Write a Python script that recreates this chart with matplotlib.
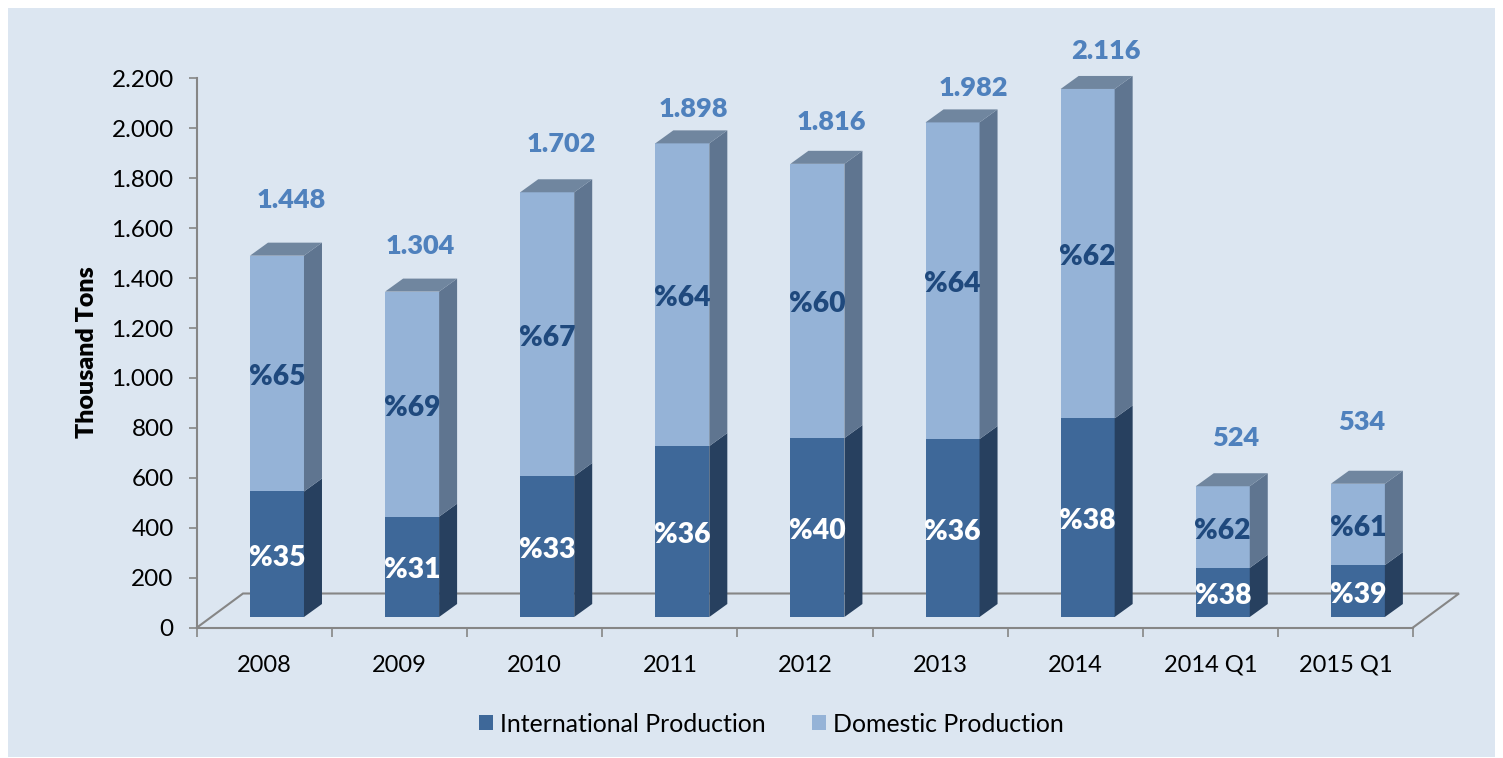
import numpy as np
import matplotlib
matplotlib.use('Agg')
import matplotlib.pyplot as plt
from matplotlib.patches import Polygon, Rectangle

plt.rcParams['font.family'] = ['Lato', 'DejaVu Sans']

categories = ['2008', '2009', '2010', '2011', '2012', '2013', '2014', '2014 Q1', '2015 Q1']
international = [503, 402, 565, 685, 717, 713, 796, 197, 208]
domestic = [945, 902, 1137, 1213, 1099, 1269, 1320, 327, 326]
totals = ['1.448', '1.304', '1.702', '1.898', '1.816', '1.982', '2.116', '524', '534']
share_int = ['%35', '%31', '%33', '%36', '%40', '%36', '%38', '%38', '%39']
share_dom = ['%65', '%69', '%67', '%64', '%60', '%64', '%62', '%62', '%61']
yticks = [0, 200, 400, 600, 800, 1000, 1200, 1400, 1600, 1800, 2000, 2200]
ylabels = ['0', '200', '400', '600', '800', '1.000', '1.200', '1.400', '1.600', '1.800', '2.000', '2.200']

# label placement in pixels relative to the front top corner / bar centre
total_dx = [14, 8, 14, 11, 14, 21, 18, 13, 4]
total_dy = [56, 46, 48, 34, 42, 34, 38, 48, 62]

W, H = 1503, 758
bg = '#DCE6F1'
c_int, c_int_side = '#3E6899', '#27405F'
c_dom, c_dom_side, c_dom_top = '#95B3D7', '#5F7590', '#70869F'
axis_col = '#868686'

fig = plt.figure(figsize=(W / 100, H / 100), dpi=100, facecolor='white')
fig.patches.append(Rectangle((8 / W, 1 / H), 1487 / W, 749 / H, transform=fig.transFigure,
                             facecolor=bg, edgecolor='none', zorder=-5))

ax = fig.add_axes([197 / W, (H - 627.5) / H, 1216 / W, 549 / H])
ax.patch.set_visible(False)
ax.set_xlim(0, 9)
ax.set_ylim(0, 2200)

px_x = 9 / 1216
px_y = 2200 / 549
depth_x = 18 * px_x
depth_y = 13 * px_y
base = 10.5 * px_y
bar_w = 54 * px_x
x = np.arange(9) + 0.592
international = np.array(international)
domestic = np.array(domestic)

# floor of the 3d box
fx, fy = 46 * px_x, 34 * px_y
ax.plot([0, fx, 9 + fx, 9], [0, fy, fy, 0], color=axis_col, lw=1.5, clip_on=False, zorder=1,
        solid_joinstyle='miter')

ax.bar(x, international, bar_w, bottom=base, color=c_int, zorder=3, label='International Production')
ax.bar(x, domestic, bar_w, bottom=base + international, color=c_dom, zorder=3, label='Domestic Production')


def side(xc, y0, y1, col):
    r = xc + bar_w / 2
    ax.add_patch(Polygon([(r, y0), (r + depth_x, y0 + depth_y), (r + depth_x, y1 + depth_y), (r, y1)],
                         facecolor=col, edgecolor='none', zorder=3, clip_on=False))


for i in range(9):
    top = base + international[i] + domestic[i]
    mid = base + international[i]
    side(x[i], base, mid, c_int_side)
    side(x[i], mid, top, c_dom_side)
    l, r = x[i] - bar_w / 2, x[i] + bar_w / 2
    ax.add_patch(Polygon([(l, top), (l + depth_x, top + depth_y), (r + depth_x, top + depth_y), (r, top)],
                         facecolor=c_dom_top, edgecolor='none', zorder=3, clip_on=False))
    ax.text(x[i], base + international[i] / 2 - 3.5 * px_y, share_int[i], color='white', fontsize=20.3,
            fontweight=800, ha='center', va='center', zorder=5)
    ax.text(x[i], mid + domestic[i] / 2 - 3.5 * px_y, share_dom[i], color='#1F497D', fontsize=20.3,
            fontweight=800, ha='center', va='center', zorder=5)
    ax.text(x[i] + total_dx[i] * px_x, top + total_dy[i] * px_y, totals[i], color='#4F81BD', fontsize=19.5,
            fontweight=800, ha='center', va='center', zorder=5)

for s in ['top', 'right']:
    ax.spines[s].set_visible(False)
for s in ['left', 'bottom']:
    ax.spines[s].set_color(axis_col)
    ax.spines[s].set_linewidth(1.5)
    ax.spines[s].set_zorder(2)

ax.set_yticks(yticks)
ax.set_yticklabels(ylabels, fontsize=17.5, color='black')
ax.tick_params(axis='y', length=5.8, width=1.2, color=axis_col, pad=11)
ax.set_xticks(np.arange(10))
ax.set_xticklabels([])
ax.tick_params(axis='x', which='major', length=6.5, width=1.2, color=axis_col)
ax.set_xticks(np.arange(9) + 0.5, minor=True)
ax.set_xticklabels(categories, minor=True, fontsize=17, color='black')
ax.tick_params(axis='x', which='minor', length=0, pad=19.5)

fig.text(87 / W, 1 - 352 / H, 'Thousand Tons', rotation=90, fontsize=18, fontweight=800,
         ha='center', va='center')

h, lab = ax.get_legend_handles_labels()
fig.legend(h, lab, loc='center', bbox_to_anchor=(771.5 / W, 1 - 724 / H), ncol=2, frameon=False,
           fontsize=17.9, handlelength=0.56, handleheight=0.56, handletextpad=0.28, columnspacing=1.85)

fig.savefig('out.png', dpi=100)
